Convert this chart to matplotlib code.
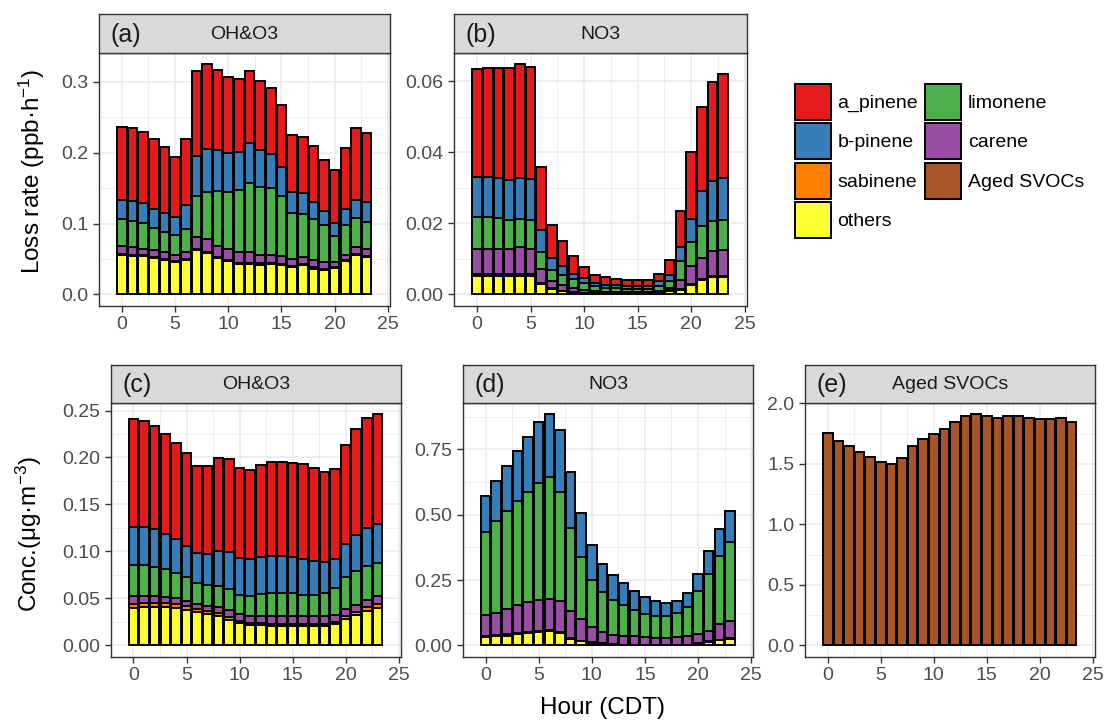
import numpy as np
import matplotlib
matplotlib.use("Agg")
import matplotlib.pyplot as plt
from matplotlib.patches import Patch

plt.rcParams['font.family'] = ['Liberation Sans', 'DejaVu Sans']
plt.rcParams['mathtext.fontset'] = 'custom'
plt.rcParams['mathtext.rm'] = 'Liberation Sans'
plt.rcParams['mathtext.it'] = 'Liberation Sans:italic'
plt.rcParams['mathtext.bf'] = 'Liberation Sans:bold'

hours = list(range(24))

species = ["a_pinene", "b-pinene", "sabinene", "others", "limonene", "carene", "Aged SVOCs"]
colors = {"a_pinene": "#E41A1C", "b-pinene": "#377EB8", "sabinene": "#FF7F00",
          "others": "#FFFF33", "limonene": "#4DAF4A", "carene": "#984EA3",
          "Aged SVOCs": "#A65628"}
stack_order = ["others", "sabinene", "carene", "limonene", "b-pinene", "a_pinene"]

# ---- (a) loss rate, OH&O3 (ppb/h)
a_others = [.056, .0549, .054, .0516, .049, .0455, .048, .0624, .0586, .0516, .047, .043,
            .043, .042, .043, .041, .0384, .041, .0366, .035, .037, .047, .056, .053]
a_sabinene = [.0015, .0015, .0015, .0015, .0015, .0015, .0015, .002, .002, .002, .002, .002,
              .002, .002, .002, .002, .0015, .0015, .0015, .0015, .0015, .0015, .0015, .0015]
a_carene = [.0105, .0102, .0092, .0099, .0095, .0083, .0105, .0162, .0174, .0154, .0157, .015,
            .0145, .012, .011, .011, .0107, .010, .0109, .0095, .0075, .0075, .0095, .0095]
a_limonene = [.0384, .0374, .0361, .0308, .028, .0291, .033, .0584, .066, .077, .0793, .0877,
              .0985, .0954, .094, .085, .0644, .0615, .0574, .0515, .036, .0415, .041, .0387]
a_bpinene = [.0272, .028, .0282, .0272, .027, .0246, .0336, .0565, .0613, .058, .056, .0539,
             .0553, .0526, .048, .0415, .0303, .029, .0246, .0205, .0188, .0235, .0256, .0273]
a_apinene = [.1031, .1024, .100, .099, .0936, .0855, .0924, .1195, .1197, .113, .1075, .1024,
             .1017, .097, .0936, .0865, .0802, .0797, .0786, .072, .075, .086, .1008, .0983]

# ---- (b) loss rate, NO3 (ppb/h)
b_others = [.0053, .0053, .0053, .0053, .0053, .0053, .0029, .0015, .0009, .0006, .0004, .0003,
            .0003, .0003, .0003, .0003, .0003, .0004, .001, .0013, .0027, .004, .0049, .0048]
b_sabinene = [.0004, .0004, .0004, .0004, .0004, .0004, .0003, .0002, .0002, .0001, .0001, .0001,
              .0001, .0001, .0001, .0001, .0001, .0001, .0002, .0002, .0003, .0004, .0004, .0004]
b_carene = [.0072, .0072, .0072, .0072, .0076, .0072, .004, .002, .0017, .0012, .0009, .0005,
            .0003, .0003, .0003, .0003, .0003, .0004, .0005, .0025, .0049, .0059, .0068, .0072]
b_limonene = [.0089, .0089, .0086, .0081, .0079, .0081, .0048, .0033, .0026, .0025, .0017, .0014,
              .0012, .0011, .0009, .0009, .0009, .0014, .002, .0053, .0068, .0089, .0087, .0086]
b_bpinene = [.0114, .0112, .0112, .0112, .0115, .0115, .0062, .0033, .0025, .0014, .0014, .001,
             .0009, .0008, .0008, .0008, .0008, .0014, .0019, .0041, .0066, .0098, .011, .0117]
b_apinene = [.0303, .0306, .0309, .0316, .0321, .0315, .0178, .0093, .0071, .0049, .0032, .0023,
             .0021, .0018, .0016, .0016, .0016, .0021, .004, .010, .0187, .0238, .028, .0293]

# ---- (c) concentration, OH&O3 (ug/m3)
c_others = [.0396, .0414, .0414, .0407, .0396, .0378, .0361, .0336, .0311, .0276, .024, .0219,
            .0219, .0212, .0212, .0212, .0205, .0212, .0212, .023, .0283, .0325, .0371, .0396]
c_sabinene = [.004, .004, .004, .004, .004, .004, .003, .003, .003, .003, .002, .002,
              .002, .002, .002, .002, .002, .002, .002, .002, .003, .003, .004, .004]
c_carene = [.0094, .0076, .0076, .0073, .0066, .0052, .0051, .0058, .0066, .0076, .0076, .0079,
            .0079, .0086, .0086, .0086, .0086, .0079, .0086, .0079, .0076, .008, .0073, .0087]
c_limonene = [.0326, .0326, .0308, .0293, .0265, .0255, .0223, .022, .0223, .0219, .0205, .0212,
              .023, .0241, .0241, .0241, .023, .023, .0241, .0279, .0336, .0354, .0358, .035]
c_bpinene = [.0406, .0406, .040, .0372, .0365, .0336, .0318, .0328, .0378, .0389, .0389, .0389,
             .0389, .0396, .0389, .0378, .0378, .0361, .0325, .0311, .0353, .0389, .0413, .0417]
c_apinene = [.1143, .1125, .1096, .106, .1018, .0983, .0927, .0938, .0982, .099, .0955, .0944,
             .098, .100, .1007, .1008, .1008, .0983, .0962, .0961, .1051, .112, .116, .117]

# ---- (d) concentration, NO3 (ug/m3)
d_others = [.0317, .0342, .038, .0443, .0469, .0507, .0545, .0481, .0253, .0165, .0101, .0063,
            .0038, .002, .002, .002, .002, .002, .002, .002, .0089, .015, .019, .025]
d_sabinene = [.004, .004, .004, .004, .004, .004, .004, .004, .004, .002, .002, .002,
              .002, .001, .001, .001, .001, .001, .001, .001, .002, .002, .002, .002]
d_carene = [.0809, .0847, .0974, .1063, .1138, .1201, .1201, .1164, .1037, .0829, .0576, .0424,
            .036, .035, .0312, .0287, .0261, .0261, .0287, .0312, .0334, .040, .0614, .068]
d_limonene = [.318, .3522, .3763, .3965, .4219, .446, .4637, .4168, .3168, .2369, .1812, .152,
              .1318, .1166, .1014, .0887, .0849, .0824, .0912, .1115, .1622, .2179, .2596, .3016]
d_bpinene = [.1381, .1546, .171, .1926, .2114, .2319, .2417, .2382, .2128, .1685, .1317, .1073,
             .095, .0823, .0734, .0633, .0545, .0507, .0456, .0532, .0659, .0861, .104, .1191]
d_apinene = [0.0] * 24

# ---- (e) concentration, Aged SVOCs (ug/m3)
e_aged = [1.753, 1.692, 1.643, 1.596, 1.555, 1.516, 1.500, 1.547, 1.643, 1.703, 1.742, 1.786,
          1.843, 1.893, 1.909, 1.893, 1.882, 1.893, 1.896, 1.876, 1.868, 1.871, 1.882, 1.846]

panel_tags = ["(a)", "(b)", "(c)", "(d)", "(e)"]
panel_titles = ["OH&O3", "NO3", "OH&O3", "NO3", "Aged SVOCs"]
x_ticks = [0, 5, 10, 15, 20, 25]
y_ticks = {
    0: ([0.0, 0.1, 0.2, 0.3], ["0.0", "0.1", "0.2", "0.3"]),
    1: ([0.0, 0.02, 0.04, 0.06], ["0.00", "0.02", "0.04", "0.06"]),
    2: ([0.0, 0.05, 0.10, 0.15, 0.20, 0.25], ["0.00", "0.05", "0.10", "0.15", "0.20", "0.25"]),
    3: ([0.0, 0.25, 0.50, 0.75], ["0.00", "0.25", "0.50", "0.75"]),
    4: ([0.0, 0.5, 1.0, 1.5, 2.0], ["0.0", "0.5", "1.0", "1.5", "2.0"]),
}

panels = [
    {"others": a_others, "sabinene": a_sabinene, "carene": a_carene,
     "limonene": a_limonene, "b-pinene": a_bpinene, "a_pinene": a_apinene},
    {"others": b_others, "sabinene": b_sabinene, "carene": b_carene,
     "limonene": b_limonene, "b-pinene": b_bpinene, "a_pinene": b_apinene},
    {"others": c_others, "sabinene": c_sabinene, "carene": c_carene,
     "limonene": c_limonene, "b-pinene": c_bpinene, "a_pinene": c_apinene},
    {"others": d_others, "sabinene": d_sabinene, "carene": d_carene,
     "limonene": d_limonene, "b-pinene": d_bpinene, "a_pinene": d_apinene},
    {"Aged SVOCs": e_aged},
]

W, H = 1106, 720
fig = plt.figure(figsize=(W / 100, H / 100), dpi=100)

# plot areas in pixels: left, top, right, bottom ; strip top
boxes = [
    (99, 52.7, 390, 306, 14),
    (454, 52.7, 746.7, 306, 14),
    (110.7, 402.7, 400.7, 657, 365),
    (462.7, 402.7, 753.3, 657, 365),
    (805, 402.7, 1095, 657, 365),
]

def fbox(l, t, r, b):
    return [l / W, 1 - b / H, (r - l) / W, (b - t) / H]

EDGE = "#333333"
GRID = "#EBEBEB"
xs = np.array(hours)

for i, (l, t, r, b, st) in enumerate(boxes):
    ax = fig.add_axes(fbox(l, t, r, b))
    ax.set_axisbelow(True)
    data = panels[i]
    bottom = np.zeros(24)
    order = stack_order if i < 4 else ["Aged SVOCs"]
    for sp in order:
        vals = np.array(data[sp], dtype=float)
        if vals.sum() > 0:
            ax.bar(xs, vals, width=0.9, bottom=bottom, color=colors[sp],
                   edgecolor="black", linewidth=1.4, zorder=3)
        bottom = bottom + vals
    ymax = bottom.max()
    ax.set_ylim(-0.05 * ymax, 1.05 * ymax)
    ax.set_xlim(-2.15, 25.2)
    ticks, labels = y_ticks[i]
    ax.set_yticks(ticks)
    ax.set_yticklabels(labels)
    ax.set_xticks(x_ticks)
    ax.set_xticklabels([str(v) for v in x_ticks])
    step = ticks[1] - ticks[0]
    ax.set_yticks([v + step / 2 for v in ticks if v + step / 2 < 1.05 * ymax], minor=True)
    ax.set_xticks([v + 2.5 for v in x_ticks[:-1]], minor=True)
    ax.grid(which="major", color=GRID, linewidth=1.1, zorder=0)
    ax.grid(which="minor", color=GRID, linewidth=0.55, zorder=0)
    ax.tick_params(which="major", length=4.5, width=1.0, color=EDGE,
                   labelsize=14, labelcolor="#4D4D4D", pad=3)
    ax.tick_params(which="minor", length=0)
    for s in ax.spines.values():
        s.set_color(EDGE)
        s.set_linewidth(1.0)
    ax.set_facecolor("white")

    # strip
    sax = fig.add_axes(fbox(l, st, r, t))
    sax.set_facecolor("#D9D9D9")
    sax.set_xticks([])
    sax.set_yticks([])
    for s in sax.spines.values():
        s.set_color(EDGE)
        s.set_linewidth(1.0)
    sax.text(11.5 / (r - l), 0.47, panel_tags[i], transform=sax.transAxes,
             ha="left", va="center", fontsize=18, color="#1A1A1A")
    sax.text(0.5, 0.47, panel_titles[i], transform=sax.transAxes,
             ha="center", va="center", fontsize=14, color="#1A1A1A")

fig.text(31.7 / W, 1 - 171.5 / H, "Loss rate (ppb·h$^{-1}$)", rotation=90,
         ha="center", va="center", fontsize=17.5, color="black")
fig.text(29.2 / W, 1 - 534 / H, "Conc.(μg·m$^{-3}$)", rotation=90,
         ha="center", va="center", fontsize=17.5, color="black")
fig.text(603 / W, 1 - 714 / H, "Hour (CDT)", ha="center", va="baseline",
         fontsize=17.5, color="black")

handles = [Patch(facecolor=colors[s], edgecolor="black", linewidth=1.4) for s in species]
fig.legend(handles, species, ncol=2, loc="upper left",
           bbox_to_anchor=(795 / W, 1 - 84 / H), frameon=False, fontsize=14,
           handlelength=1.84, handleheight=2.47, labelspacing=0.18,
           handletextpad=0.34, columnspacing=0.375, borderpad=0, borderaxespad=0)

fig.savefig("out.png", dpi=100)
